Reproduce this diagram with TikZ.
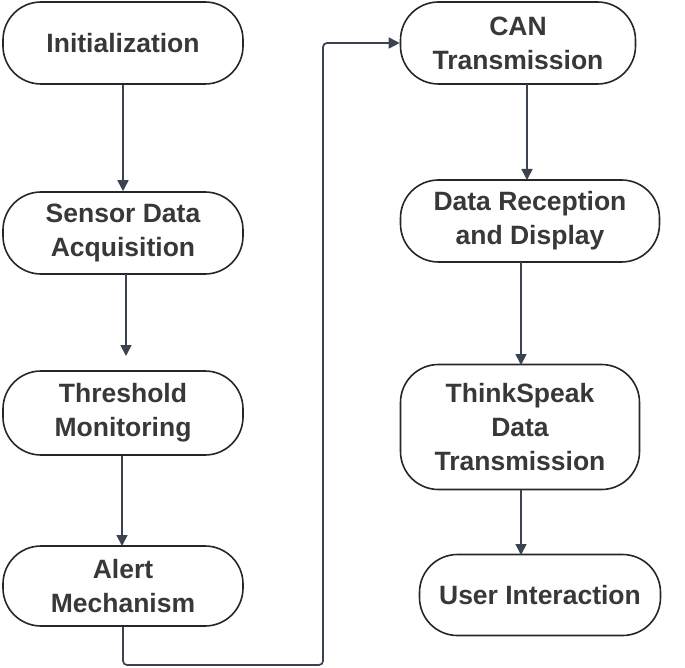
\documentclass[tikz,border=0pt]{standalone}
\usepackage{fontspec}
\setmainfont{Liberation Sans}
\usetikzlibrary{arrows.meta}
\definecolor{ln}{HTML}{3B4350}
\begin{document}
\begin{tikzpicture}[x=1pt,y=-1pt,
  box/.style={draw=black!85,line width=1.6pt,rounded corners=38pt,fill=white,align=center,font=\fontsize{26.5}{34}\selectfont\bfseries,text=black!78,inner sep=0pt},
  arr/.style={draw=ln,line width=1.7pt,-{Triangle[length=11pt,width=11pt]}}]
\useasboundingbox (0,0) rectangle (685,668);
\node[box,minimum width=240pt,minimum height=82pt] (a) at (123,43) {Initialization};
\node[box,minimum width=240pt,minimum height=82pt] (b) at (123,233) {Sensor Data\\Acquisition};
\node[box,minimum width=240pt,minimum height=84pt] (c) at (123,413) {Threshold\\Monitoring};
\node[box,minimum width=240pt,minimum height=80pt] (d) at (123,586) {Alert\\Mechanism};
\node[box,minimum width=235pt,minimum height=82pt] (e) at (518,43) {CAN\\Transmission};
\node[box,minimum width=259pt,minimum height=82pt] (f) at (530,221) {Data Reception\\and Display};
\node[box,minimum width=239pt,minimum height=125pt] (g) at (520,427) {ThinkSpeak\\Data\\Transmission};
\node[box,minimum width=241pt,minimum height=81pt] (h) at (540,595) {User Interaction};
\coordinate (p1) at (123,665);
\coordinate (p2) at (323,665);
\coordinate (p3) at (323,43);
\draw[arr] (a) -- (b);
\draw[arr] (126,274) -- (126,356);
\draw[arr] (122,456) -- (122,546);
\draw[arr,rounded corners=4pt] (d.south) -- (p1) -- (p2) -- (p3) -- (e.west);
\draw[arr] (527,84) -- (527,180);
\draw[arr] (521,262) -- (521,365);
\draw[arr] (521,490) -- (521,555);
\end{tikzpicture}
\end{document}
